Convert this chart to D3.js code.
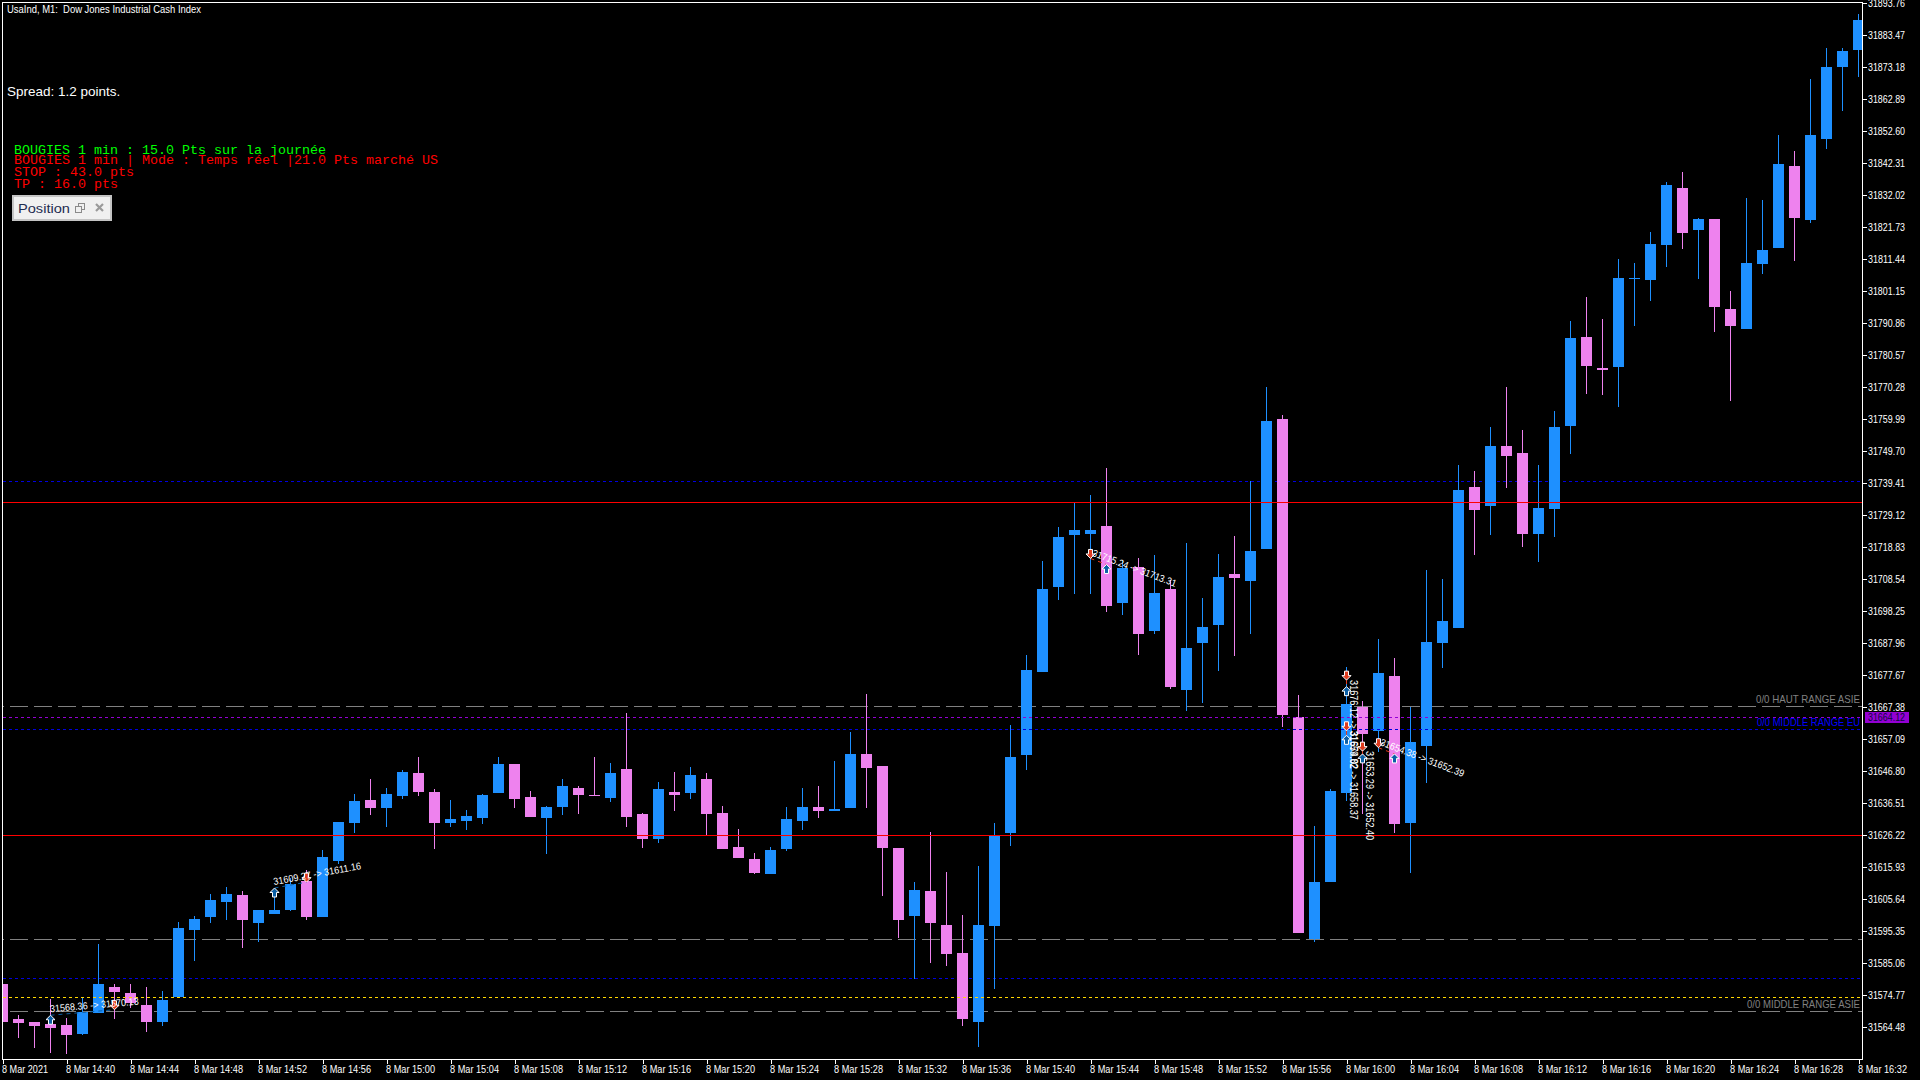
<!DOCTYPE html>
<html><head><meta charset="utf-8">
<script src="https://cdnjs.cloudflare.com/ajax/libs/d3/7.8.5/d3.min.js"></script>
<style>
html,body{margin:0;padding:0;background:#000;overflow:hidden}
svg{display:block}
text{white-space:pre;font-family:"Liberation Sans",Arial,sans-serif}
</style></head><body><svg id="c" width="1920" height="1080"></svg>
<script>
const opens=[31578.41,31567.15,31566.19,31565.54,31565.22,31562.33,31569.08,31577.44,31575.51,31571.65,31566.19,31574.22,31595.77,31599.95,31604.77,31607.02,31598.02,31600.91,31602.20,31611.53,31599.95,31617.96,31630.18,31637.57,31635.00,31638.86,31646.25,31640.14,31630.18,31630.82,31631.78,31639.82,31649.15,31638.54,31631.78,31635.32,31641.43,31639.18,31638.22,31647.54,31633.07,31625.03,31640.14,31639.82,31644.32,31633.39,31622.46,31618.60,31613.78,31621.82,31630.82,31635.32,31634.03,31635.00,31652.36,31648.51,31622.14,31600.27,31608.31,31597.38,31588.37,31566.19,31597.06,31626.96,31652.04,31678.73,31706.06,31722.79,31723.11,31725.68,31700.92,31712.50,31691.92,31705.42,31672.94,31688.06,31693.84,31710.24,31707.99,31718.28,31760.09,31664.26,31592.88,31611.20,31639.82,31667.48,31659.76,31677.45,31630.18,31654.94,31688.06,31692.88,31738.22,31732.11,31751.40,31749.15,31723.11,31731.15,31757.84,31786.45,31776.49,31776.81,31805.10,31804.78,31816.04,31834.37,31820.86,31824.40,31795.46,31789.03,31809.93,31815.07,31841.44,31824.08,31850.12,31873.28,31878.74];
const highs=[31578.41,31568.44,31566.19,31573.58,31567.47,31573.90,31591.27,31578.41,31578.41,31577.44,31576.15,31598.34,31600.27,31607.35,31609.60,31608.31,31602.20,31607.67,31612.49,31615.06,31621.49,31630.50,31639.50,31644.32,31641.43,31647.22,31651.40,31641.11,31637.57,31634.36,31639.50,31651.40,31649.15,31640.47,31635.64,31644.32,31642.07,31651.40,31649.47,31665.55,31633.39,31643.36,31646.58,31648.18,31646.25,31635.64,31628.25,31620.53,31622.46,31635.32,31641.43,31642.07,31650.11,31659.44,31671.66,31648.51,31622.14,31611.20,31627.28,31614.42,31600.59,31616.35,31630.18,31661.69,31684.20,31714.42,31725.36,31733.08,31735.65,31744.33,31714.75,31715.39,31716.35,31708.32,31720.21,31702.53,31716.68,31722.46,31740.15,31770.38,31761.37,31671.34,31629.21,31641.11,31680.34,31669.41,31689.34,31683.23,31667.48,31711.53,31708.64,31745.29,31743.37,31757.51,31770.38,31756.55,31745.29,31762.66,31791.60,31799.32,31792.24,31811.54,31810.25,31820.22,31836.30,31839.51,31824.72,31824.40,31801.25,31831.15,31830.51,31851.41,31846.26,31869.42,31879.39,31879.39,31890.32];
const lows=[31566.19,31561.04,31557.83,31556.22,31555.90,31562.01,31569.08,31567.15,31570.69,31562.97,31564.90,31574.22,31585.80,31598.02,31598.98,31589.98,31591.91,31600.91,31601.88,31598.98,31599.95,31616.99,31626.96,31632.75,31628.89,31637.89,31638.86,31621.82,31628.89,31627.93,31629.85,31639.82,31635.00,31632.11,31620.21,31632.75,31633.07,31638.86,31636.93,31628.89,31622.14,31623.74,31634.03,31637.89,31626.32,31621.82,31618.92,31613.78,31613.78,31621.17,31627.93,31631.78,31634.03,31635.00,31635.00,31606.70,31593.20,31580.01,31585.16,31584.19,31564.90,31558.15,31576.80,31622.78,31647.22,31678.73,31701.88,31703.81,31703.81,31698.03,31697.06,31684.20,31690.95,31673.27,31666.19,31668.76,31679.05,31683.88,31690.95,31718.28,31661.05,31594.80,31591.91,31611.20,31637.25,31633.07,31653.01,31626.96,31614.10,31643.04,31680.02,31692.88,31716.35,31722.79,31737.90,31718.93,31714.10,31722.14,31748.83,31768.13,31767.80,31763.95,31789.99,31798.03,31808.96,31814.75,31805.10,31788.06,31765.87,31789.03,31806.71,31815.07,31810.89,31823.11,31846.91,31859.13,31870.06];
const closes=[31566.19,31565.86,31564.90,31564.26,31562.01,31569.40,31578.41,31575.83,31572.30,31566.19,31573.26,31596.41,31599.31,31605.42,31607.35,31598.98,31602.20,31602.20,31610.56,31599.95,31619.24,31630.50,31637.25,31635.00,31639.50,31646.58,31640.14,31630.18,31631.46,31632.43,31639.18,31649.15,31637.89,31632.11,31635.32,31642.07,31639.18,31638.86,31646.25,31632.11,31625.03,31641.11,31639.18,31645.61,31633.07,31621.82,31618.92,31614.10,31621.49,31631.46,31635.32,31634.03,31634.68,31652.36,31647.86,31622.14,31598.98,31608.63,31598.02,31588.05,31567.15,31597.38,31626.00,31651.40,31679.37,31705.42,31722.14,31724.39,31724.39,31699.95,31712.17,31690.95,31704.13,31673.91,31686.45,31693.20,31709.28,31708.96,31717.64,31759.44,31664.90,31594.80,31611.20,31640.47,31668.44,31658.79,31678.41,31629.85,31656.22,31688.38,31695.13,31737.26,31730.82,31751.40,31748.19,31723.11,31731.47,31757.51,31786.13,31777.13,31775.84,31805.43,31805.43,31816.36,31835.33,31819.90,31824.40,31796.10,31789.99,31810.25,31814.43,31842.08,31824.72,31851.41,31873.28,31878.42,31888.39];

const yTickLabels=["31893.76","31883.47","31873.18","31862.89","31852.60","31842.31","31832.02","31821.73","31811.44","31801.15","31790.86","31780.57","31770.28","31759.99","31749.70","31739.41","31729.12","31718.83","31708.54","31698.25","31687.96","31677.67","31667.38","31657.09","31646.80","31636.51","31626.22","31615.93","31605.64","31595.35","31585.06","31574.77","31564.48"];
const xTickIndex=[0,4,8,12,16,20,24,28,32,36,40,44,48,52,56,60,64,68,72,76,80,84,88,92,96,100,104,108,112,116];
const xTickLabels=["8 Mar 2021","8 Mar 14:40","8 Mar 14:44","8 Mar 14:48","8 Mar 14:52","8 Mar 14:56","8 Mar 15:00","8 Mar 15:04","8 Mar 15:08","8 Mar 15:12","8 Mar 15:16","8 Mar 15:20","8 Mar 15:24","8 Mar 15:28","8 Mar 15:32","8 Mar 15:36","8 Mar 15:40","8 Mar 15:44","8 Mar 15:48","8 Mar 15:52","8 Mar 15:56","8 Mar 16:00","8 Mar 16:04","8 Mar 16:08","8 Mar 16:12","8 Mar 16:16","8 Mar 16:20","8 Mar 16:24","8 Mar 16:28","8 Mar 16:32"];

const levelBack=[31667.64,31592.78,31569.63,31740.06,31580.24];
const levelBackKind=["gray","gray","gray","blue","blue"];
const levelFront=[31733.30,31626.22,31664.12,31660.31,31574.13];
const levelFrontKind=["red","red","purple","blue","yellow"];
const levelLabels=["0/0 HAUT RANGE ASIE","0/0 MIDDLE RANGE EU","0/0 MIDDLE RANGE ASIE"];
const levelLabelPrice=[31669.9,31662.4,31571.7];
const levelLabelColor=["#808080","#0000ff","#808080"];
const lastPrice=31664.12;

const tradeStartIdx=[3,17,68,84,84,85,86];
const tradeStartPrice=[31568.36,31609.27,31715.24,31676.12,31659.82,31653.29,31654.38];
const tradeEndIdx=[7,19,69,84,84,85,87];
const tradeEndPrice=[31570.13,31611.16,31713.31,31674.02,31658.37,31652.40,31652.39];
const tradeColor=["#0b5fa5","#0b5fa5","#e03c1e","#e03c1e","#e03c1e","#e03c1e","#e03c1e"];
const tradeFirstUp=[true,true,false,false,false,false,false];

const infoLines=["BOUGIES 1 min : 15.0 Pts sur la journée","BOUGIES 1 min | Mode : Temps réel |21.0 Pts marché US","STOP : 43.0 pts","TP : 16.0 pts"];
const infoColor=["#00ff00","#ff0000","#ff0000","#ff0000"];

const BLUE="#1e90ff",PINK="#ee82ee";
const svg=d3.select("#c");
svg.append("rect").attr("width",1920).attr("height",1080).attr("fill","#000");

const x=d3.scaleLinear().domain([0,116]).range([2.5,1858.5]);
const y=d3.scaleLinear().domain([31564.48,31893.76]).range([1027.3,3.3]);
const ry=p=>Math.round(y(p));
const crisp=g=>g.attr("shape-rendering","crispEdges");

svg.append("clipPath").attr("id","plot").append("rect").attr("x",3).attr("y",3).attr("width",1859).attr("height",1056);
const plot=svg.append("g").attr("clip-path","url(#plot)");

const lineStyle={gray:["#808080","18,6",17],blue:["#0000e0","3,3",0],red:["#ff0000",null,0],purple:["#9400d3","3,3",0],yellow:["#ffd700","3,3",0]};
function levels(g,vals,kinds){
  g.selectAll("line").data(vals).join("line").call(crisp)
    .attr("x1",3).attr("x2",1862)
    .attr("y1",d=>ry(d)+.5).attr("y2",d=>ry(d)+.5)
    .attr("stroke",(d,i)=>lineStyle[kinds[i]][0])
    .attr("stroke-dasharray",(d,i)=>lineStyle[kinds[i]][1])
    .attr("stroke-dashoffset",(d,i)=>lineStyle[kinds[i]][2]);
}
levels(plot.append("g"),levelBack,levelBackKind);

const idx=d3.range(opens.length);
const col=i=>closes[i]>=opens[i]?BLUE:PINK;
const cg=plot.append("g").call(crisp);
cg.selectAll(".w").data(idx).join("rect").attr("class","w")
  .attr("x",i=>Math.floor(x(i))).attr("width",1)
  .attr("y",i=>ry(highs[i])).attr("height",i=>Math.max(1,ry(lows[i])-ry(highs[i])))
  .attr("fill",col);
cg.selectAll(".b").data(idx).join("rect").attr("class","b")
  .attr("x",i=>Math.floor(x(i))-5).attr("width",11)
  .attr("y",i=>ry(Math.max(opens[i],closes[i])))
  .attr("height",i=>Math.max(1,ry(Math.min(opens[i],closes[i]))-ry(Math.max(opens[i],closes[i]))))
  .attr("fill",col);

levels(plot.append("g"),levelFront,levelFrontKind);

plot.append("g").selectAll("text").data(levelLabels).join("text")
  .attr("x",1860).attr("text-anchor","end")
  .attr("y",(d,i)=>y(levelLabelPrice[i])+3.5)
  .attr("font-size",10.5).attr("fill",(d,i)=>levelLabelColor[i])
  .attr("textLength",(d,i)=>[104,103,113][i]).attr("lengthAdjust","spacingAndGlyphs")
  .text(d=>d);

const upPath="M0,0L4.5,4.5L2,4.5L2,9L-2,9L-2,4.5L-4.5,4.5Z";
const downPath="M0,0L4.5,-4.5L2,-4.5L2,-9L-2,-9L-2,-4.5L-4.5,-4.5Z";
const tg=plot.append("g");
tradeStartIdx.forEach((s,i)=>{
  const x1=x(s),y1=y(tradeStartPrice[i]),x2=x(tradeEndIdx[i]),y2=y(tradeEndPrice[i]);
  tg.append("line").attr("x1",x1).attr("y1",y1).attr("x2",x2).attr("y2",y2)
    .attr("stroke",tradeColor[i]).attr("stroke-dasharray","4,4");
  const up=tradeFirstUp[i];
  tg.append("path").attr("d",up?upPath:downPath).attr("transform",`translate(${x1},${y1})`)
    .attr("fill",up?"#0b5fa5":"#e03c1e").attr("stroke","#fff").attr("stroke-width",1);
  tg.append("path").attr("d",up?downPath:upPath).attr("transform",`translate(${x2},${y2})`)
    .attr("fill",up?"#e03c1e":"#0b5fa5").attr("stroke","#fff").attr("stroke-width",1);
});
tradeStartIdx.forEach((s,i)=>{
  const x1=x(s),y1=y(tradeStartPrice[i]),x2=x(tradeEndIdx[i]),y2=y(tradeEndPrice[i]);
  const a=Math.atan2(y2-y1,x2-x1)*180/Math.PI;
  tg.append("text").attr("transform",`translate(${x1},${y1}) rotate(${a})`)
    .attr("dy",-3).attr("font-size",10).attr("fill","#fff")
    .attr("textLength",89).attr("lengthAdjust","spacingAndGlyphs")
    .text(`${tradeStartPrice[i].toFixed(2)} -> ${tradeEndPrice[i].toFixed(2)}`);
});

svg.append("rect").attr("x",2.5).attr("y",2.5).attr("width",1860).attr("height",1057)
  .attr("fill","none").attr("stroke","#fff").call(crisp);

const yAxis=d3.axisRight(y).tickValues(yTickLabels.map(Number)).tickFormat((d,i)=>yTickLabels[i]).tickSize(4).tickPadding(1.5);
const gy=svg.append("g").attr("transform","translate(1862.5,0)").call(yAxis);
gy.select(".domain").remove();
gy.selectAll("line").attr("stroke","#fff").call(crisp);
gy.selectAll("text").attr("fill","#fff").attr("font-size",10.5).attr("font-family","Liberation Sans")
  .attr("textLength",37).attr("lengthAdjust","spacingAndGlyphs");

const xAxis=d3.axisBottom(x).tickValues(xTickIndex).tickFormat((d,i)=>xTickLabels[i]).tickSize(4).tickPadding(2);
const gx=svg.append("g").attr("transform","translate(0,1059.5)").call(xAxis);
gx.select(".domain").remove();
gx.selectAll("line").attr("stroke","#fff").call(crisp);
gx.selectAll("text").attr("fill","#fff").attr("font-size",10.5).attr("font-family","Liberation Sans")
  .attr("text-anchor","start").attr("dx",-1)
  .attr("textLength",(d,i)=>i===0?46:49).attr("lengthAdjust","spacingAndGlyphs");

svg.append("rect").attr("x",1865).attr("y",ry(lastPrice)-5).attr("width",44).attr("height",11).attr("fill","#9400d3").call(crisp);
svg.append("text").attr("x",1868).attr("y",ry(lastPrice)+4).attr("font-size",10.5).attr("fill","#0a0a3c")
  .attr("textLength",37).attr("lengthAdjust","spacingAndGlyphs").text(lastPrice.toFixed(2));

svg.append("text").attr("x",7).attr("y",13).attr("font-size",10.5).attr("fill","#fff")
  .attr("font-family","DejaVu Sans").attr("textLength",194).attr("lengthAdjust","spacingAndGlyphs")
  .text("UsaInd, M1:  Dow Jones Industrial Cash Index");
svg.append("text").attr("x",7).attr("y",96).attr("font-size",13.5).attr("fill","#fff").text("Spread: 1.2 points.");

const infoY=[154,164,176,188];
svg.append("g").selectAll("text").data(infoLines).join("text")
  .attr("x",14).attr("y",(d,i)=>infoY[i]).attr("fill",(d,i)=>infoColor[i])
  .attr("style","font-family:'Liberation Mono',monospace;font-size:13.33px").text(d=>d);

const p=svg.append("g");
p.append("rect").attr("x",13).attr("y",196).attr("width",98).attr("height",24).attr("fill","#f0f0f0").attr("stroke","#c4c4c4").attr("stroke-width",2).call(crisp);
p.append("clipPath").attr("id","pc").append("rect").attr("x",14).attr("y",197).attr("width",58).attr("height",22);
p.append("text").attr("clip-path","url(#pc)").attr("x",18).attr("y",213).attr("font-size",12).attr("font-family","DejaVu Sans").attr("fill","#1e2c50")
  .attr("textLength",60).attr("lengthAdjust","spacingAndGlyphs").text("Position :");
p.append("rect").attr("x",78).attr("y",203).attr("width",6).attr("height",6).attr("fill","none").attr("stroke","#8a8a8a").call(crisp);
p.append("rect").attr("x",75.5).attr("y",206.5).attr("width",6).attr("height",6).attr("fill","#f0f0f0").attr("stroke","#8a8a8a").call(crisp);
p.append("path").attr("d","M96,204L103,211M103,204L96,211").attr("stroke","#9a9a9a").attr("stroke-width",2.2);
</script></body></html>
